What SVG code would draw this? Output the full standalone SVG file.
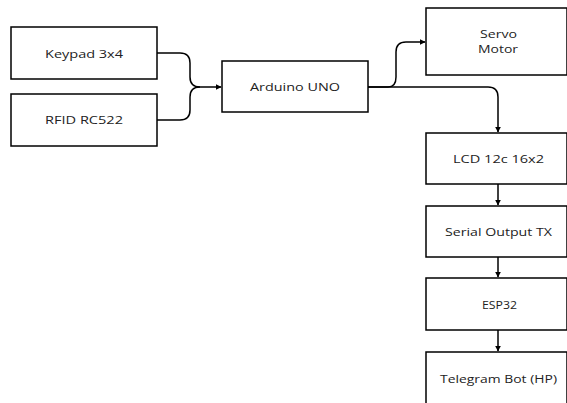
<svg xmlns="http://www.w3.org/2000/svg" width="567" height="403" viewBox="0 0 567 403">
<defs>
<style>
.box{fill:#fff;stroke:#000;stroke-width:1.5}
.t{font-family:"Open Sans","Noto Sans",sans-serif;font-size:10.5px;fill:#222;text-anchor:middle}
.c{fill:none;stroke:#000;stroke-width:1.5}
</style>
<marker id="a" viewBox="0 0 10 10" refX="9" refY="5" markerWidth="6" markerHeight="6" orient="auto" markerUnits="userSpaceOnUse">
<path d="M0,0 L10,5 L0,10 Z" fill="#000"/>
</marker>
</defs>
<rect width="567" height="403" fill="#fff"/>
<g id="keypad"><rect class="box" x="11" y="27" width="146" height="52"/><text class="t" x="84" y="58.3" textLength="78" lengthAdjust="spacingAndGlyphs">Keypad 3x4</text></g>
<g id="rfid"><rect class="box" x="11" y="94" width="146" height="52"/><text class="t" x="84" y="124.3" textLength="78" lengthAdjust="spacingAndGlyphs">RFID RC522</text></g>
<g id="arduino"><rect class="box" x="222" y="61" width="146" height="51"/><text class="t" x="295" y="90.7" textLength="90" lengthAdjust="spacingAndGlyphs">Arduino UNO</text></g>
<g id="servo"><rect class="box" x="426" y="8" width="141" height="67"/><text class="t" x="498.5" y="38.3" textLength="37" lengthAdjust="spacingAndGlyphs">Servo</text><text class="t" x="498" y="53.3" textLength="40" lengthAdjust="spacingAndGlyphs">Motor</text></g>
<g id="lcd"><rect class="box" x="426" y="133" width="141" height="51"/><text class="t" x="498.5" y="163.3" textLength="91" lengthAdjust="spacingAndGlyphs">LCD 12c 16x2</text></g>
<g id="serial"><rect class="box" x="426" y="206" width="141" height="51"/><text class="t" x="498.5" y="236" textLength="107" lengthAdjust="spacingAndGlyphs">Serial Output TX</text></g>
<g id="esp32"><rect class="box" x="426" y="278" width="141" height="52"/><text class="t" x="499.5" y="309.3" textLength="35" lengthAdjust="spacingAndGlyphs">ESP32</text></g>
<g id="telegram"><rect class="box" x="426" y="352" width="141" height="55"/><text class="t" x="498.5" y="382.7" textLength="117" lengthAdjust="spacingAndGlyphs">Telegram Bot (HP)</text></g>
<g id="connectors">
<path class="c" d="M157,53 H180 Q190,53 190,63 V77 Q190,87 200,87 H221" marker-end="url(#a)"/>
<path class="c" d="M157,120 H180 Q190,120 190,110 V97 Q190,87 200,87"/>
<path class="c" d="M368,87 H388 Q396,87 396,77 V52 Q396,42 406,42 H425" marker-end="url(#a)"/>
<path class="c" d="M368,87 H488 Q498,87 498,97 V132" marker-end="url(#a)"/>
<path class="c" d="M498,184 V205" marker-end="url(#a)"/>
<path class="c" d="M498,257 V277" marker-end="url(#a)"/>
<path class="c" d="M498,330 V351" marker-end="url(#a)"/>
</g>
</svg>
